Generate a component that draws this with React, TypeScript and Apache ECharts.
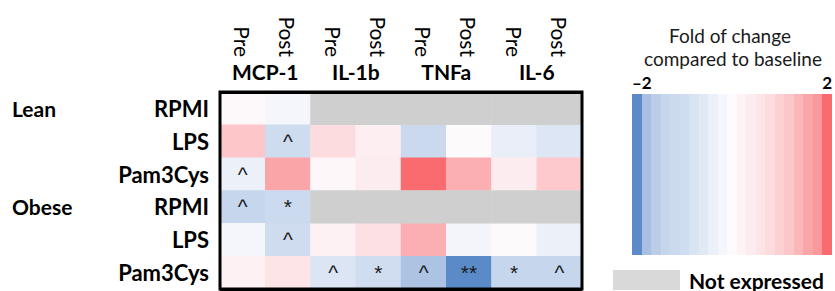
import React, { useEffect, useRef } from "react";
import * as echarts from "echarts";

const cytokines = ["MCP-1", "IL-1b", "TNFa", "IL-6"];
const timepoints = ["Pre", "Post"];
const groups = ["Lean", "Obese"];
const stimuli = ["RPMI", "LPS", "Pam3Cys"];

// fold of change per row (Lean RPMI, LPS, Pam3Cys, Obese RPMI, LPS, Pam3Cys), null = not expressed
const leanRPMI = [0.05, -0.2, null, null, null, null, null, null];
const leanLPS = [1.2, -1.1, 0.8, 0.35, -1.25, 0.02, -0.45, -0.7];
const leanPam3Cys = [-0.4, 1.6, 0.1, 0.4, 2.0, 1.5, 0.4, 1.15];
const obeseRPMI = [-1.4, -1.2, null, null, null, null, null, null];
const obeseLPS = [-0.2, -1.05, 0.25, 0.7, 1.5, -0.22, 0.02, -0.4];
const obesePam3Cys = [0.25, 0.6, -0.75, -1.0, -1.75, -2.0, -1.4, -1.4];

const marksLeanRPMI = ["", "", "", "", "", "", "", ""];
const marksLeanLPS = ["", "^", "", "", "", "", "", ""];
const marksLeanPam3Cys = ["^", "", "", "", "", "", "", ""];
const marksObeseRPMI = ["^", "*", "", "", "", "", "", ""];
const marksObeseLPS = ["", "^", "", "", "", "", "", ""];
const marksObesePam3Cys = ["", "", "^", "*", "^", "**", "*", "^"];

const legendTitle = ["Fold of change", "compared to baseline"];
const scaleMin = -2;
const scaleMax = 2;
const scaleColors = [
  "#5b8ac8", "#a8bfe2", "#bccde9", "#c6d6ed", "#ccdaef", "#d0ddf0", "#d8e3f3",
  "#e2e9f6", "#ebf0f9", "#f4f6fb", "#fdfbfd", "#fdf3f5", "#fdecef", "#fde4e7",
  "#fddcdf", "#fdd0d3", "#fdc6c9", "#fbb7ba", "#faa6a9", "#f9999c", "#f96b6e",
];

const rows = [leanRPMI, leanLPS, leanPam3Cys, obeseRPMI, obeseLPS, obesePam3Cys];
const marks = [marksLeanRPMI, marksLeanLPS, marksLeanPam3Cys, marksObeseRPMI, marksObeseLPS, marksObesePam3Cys];

const xCats: string[] = [];
cytokines.forEach((c) => timepoints.forEach((t) => xCats.push(c + "|" + t)));
const yCats: string[] = [];
groups.forEach((g) => stimuli.forEach((s) => yCats.push(g + "|" + s)));

const FONT = "Lato";

export default function App() {
  const ref = useRef<HTMLDivElement>(null);
  useEffect(() => {
    if (!ref.current) return;
    const chart = echarts.init(ref.current, undefined, { renderer: "svg" });
    const valueData: any[] = [];
    const naData: any[] = [];
    rows.forEach((r, yi) =>
      r.forEach((v, xi) => {
        if (v === null) naData.push([xi, yi, 0]);
        else valueData.push([xi, yi, v]);
      })
    );
    const n = scaleColors.length;
    const stops: any[] = [];
    scaleColors.forEach((c, i) => {
      stops.push({ offset: i / n, color: c });
      stops.push({ offset: (i + 1) / n, color: c });
    });
    const gridLeft = 220;
    const gridTop = 92;
    const gridW = 362;
    const gridH = 197;
    chart.setOption({
      animation: false,
      grid: {
        left: gridLeft,
        top: gridTop,
        width: gridW,
        height: gridH,
        show: true,
        borderColor: "#000",
        borderWidth: 3,
        backgroundColor: "transparent",
        z: 10,
      },
      xAxis: [
        {
          type: "category",
          position: "top",
          data: xCats,
          axisLine: { show: false },
          axisTick: { show: false },
          splitLine: { show: false },
          axisLabel: {
            rotate: 90,
            margin: 35,
            fontFamily: FONT,
            fontSize: 21,
            color: "#000",
            formatter: (v: string) => v.split("|")[1],
          },
        },
        {
          type: "category",
          position: "top",
          data: cytokines,
          axisLine: { show: false },
          axisTick: { show: false },
          splitLine: { show: false },
          axisLabel: {
            margin: 10,
            fontFamily: FONT,
            fontWeight: "bold",
            fontSize: 21,
            color: "#000",
          },
        },
      ],
      yAxis: [
        {
          type: "category",
          position: "left",
          inverse: true,
          data: yCats,
          z: 10,
          axisLine: { show: false },
          axisTick: { show: false },
          splitLine: {
            show: true,
            interval: (index: number) => index === 3,
            lineStyle: { color: "#000", width: 3 },
          },
          axisLabel: {
            margin: 11,
            fontFamily: FONT,
            fontWeight: "bold",
            fontSize: 22,
            color: "#000",
            formatter: (v: string) => v.split("|")[1],
          },
        },
        {
          type: "category",
          position: "left",
          inverse: true,
          data: yCats,
          axisLine: { show: false },
          axisTick: { show: false },
          splitLine: { show: false },
          axisLabel: {
            margin: 208,
            align: "left",
            fontFamily: FONT,
            fontWeight: "bold",
            fontSize: 21,
            color: "#000",
            formatter: (v: string) => {
              const [g, s] = v.split("|");
              return s === stimuli[0] ? g : "";
            },
          },
        },
      ],
      visualMap: [
        {
          type: "continuous",
          seriesIndex: 0,
          min: scaleMin,
          max: scaleMax,
          show: false,
          inRange: { color: scaleColors },
        },
        {
          type: "piecewise",
          seriesIndex: 1,
          show: false,
          pieces: [{ value: 0, color: "#cfcfcf" }],
        },
      ],
      series: [
        {
          type: "heatmap",
          xAxisIndex: 0,
          yAxisIndex: 0,
          data: valueData,
          itemStyle: { borderWidth: 0 },
          emphasis: { disabled: true },
          label: {
            show: true,
            fontFamily: "Liberation Sans",
            fontSize: 21,
            color: "#1a1a1a",
            formatter: (p: any) => marks[p.data[1]][p.data[0]],
          },
        },
        {
          type: "heatmap",
          name: "Not expressed",
          xAxisIndex: 0,
          yAxisIndex: 0,
          data: naData,
          itemStyle: { borderWidth: 0 },
          emphasis: { disabled: true },
          label: { show: false },
        },
      ],
      graphic: [
        {
          type: "rect",
          shape: { x: 632, y: 94, width: 200, height: 161 },
          style: { fill: new echarts.graphic.LinearGradient(0, 0, 1, 0, stops) },
        },
        {
          type: "text",
          x: 730,
          y: 35,
          style: {
            text: legendTitle[0],
            fontFamily: FONT,
            fontSize: 19,
            fill: "#1a1a1a",
            align: "center",
            verticalAlign: "middle",
          },
        },
        {
          type: "text",
          x: 733,
          y: 58,
          style: {
            text: legendTitle[1],
            fontFamily: FONT,
            fontSize: 19,
            fill: "#1a1a1a",
            align: "center",
            verticalAlign: "middle",
          },
        },
        {
          type: "text",
          x: 632,
          y: 82,
          style: {
            text: "–" + String(Math.abs(scaleMin)),
            fontFamily: FONT,
            fontWeight: "bold",
            fontSize: 17,
            fill: "#000",
            align: "left",
            verticalAlign: "middle",
          },
        },
        {
          type: "text",
          x: 832,
          y: 82,
          style: {
            text: String(scaleMax),
            fontFamily: FONT,
            fontWeight: "bold",
            fontSize: 17,
            fill: "#000",
            align: "right",
            verticalAlign: "middle",
          },
        },
        {
          type: "rect",
          shape: { x: 613, y: 270, width: 67, height: 20 },
          style: { fill: "#d9d9d9" },
        },
        {
          type: "text",
          x: 689,
          y: 280,
          style: {
            text: "Not expressed",
            fontFamily: FONT,
            fontWeight: "bold",
            fontSize: 21,
            fill: "#000",
            align: "left",
            verticalAlign: "middle",
          },
        },
      ],
    });
    return () => chart.dispose();
  }, []);
  return (
    <div
      ref={ref}
      style={{ position: "absolute", left: 0, top: 0, width: 835, height: 291, background: "#fff" }}
    />
  );
}
